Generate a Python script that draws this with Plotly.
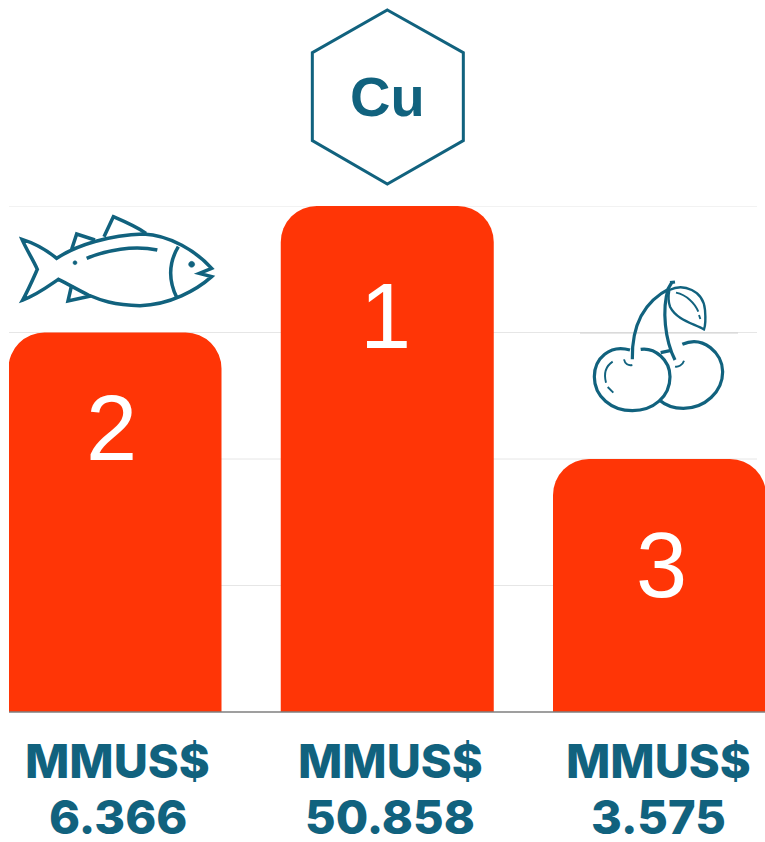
import re
import plotly.graph_objects as go

ranks = ["2", "1", "3"]
heights = [3, 4, 2]
positions = [0, 1, 2]
amount_labels = ["6.366", "50.858", "3.575"]
unit_label = "MMUS$"
y_ticks = [0, 1, 2, 3, 4]

W, H = 765, 842
TEAL = "#11627e"
RED = "#ff3506"
PLOT_L, PLOT_R, PLOT_T, PLOT_B = 9, 765, 206, 712
GRID_END = 757
CAT0, CAT_STEP = 115, 272.25


def px_x(v):
    return (v - CAT0) / CAT_STEP


def tr(path, ox, oy, s=3.0):
    """Map icon path written in zoom-crop coordinates to page pixels."""
    def rep(m):
        return f"{ox + float(m.group(1)) / s:.2f},{oy + float(m.group(2)) / s:.2f}"
    return re.sub(r"(-?[\d.]+),(-?[\d.]+)", rep, path)


def circ(cx, cy, r):
    k = 0.5523 * r
    return (f"M{cx-r},{cy} C{cx-r},{cy-k} {cx-k},{cy-r} {cx},{cy-r} "
            f"C{cx+k},{cy-r} {cx+r},{cy-k} {cx+r},{cy} "
            f"C{cx+r},{cy+k} {cx+k},{cy+r} {cx},{cy+r} "
            f"C{cx-k},{cy+r} {cx-r},{cy+k} {cx-r},{cy} Z")


fish_lines = [
    "M170,205 C230,165 330,135 430,132 C510,135 590,185 635,235 L598,250 L635,260 "
    "C590,300 510,345 420,347 C340,345 300,330 265,315 C235,300 200,280 175,268 "
    "C150,285 110,315 68,330 C85,300 100,265 112,238 C100,210 80,180 66,148 C105,160 140,180 170,205 Z",
    "M312,140 L340,80 C375,95 410,110 438,130",
    "M215,178 L230,132 L285,150",
    "M215,285 L204,333 L272,318",
    "M535,170 C505,220 505,270 530,322",
    "M260,205 C320,180 400,165 472,180",
]
fish_dots = [circ(575, 223, 9), circ(225, 218, 6)]

cherry_lines = [
    "M270,270 C210,252 163,295 163,350 C163,410 215,452 277,452 C340,452 390,410 390,350 C390,300 345,262 302,268",
    "M427,253 C490,225 548,280 548,335 C548,395 495,445 430,445 C400,445 375,435 358,420",
    "M362,278 L390,272",
    "M277,298 C275,200 310,125 390,85",
    "M405,300 C375,240 365,150 385,85 L395,68",
    "M390,68 L405,66",
]
cherry_leaf = [
    "M388,90 C430,70 490,90 495,150 C497,175 497,195 492,208 C460,190 410,180 390,140 C385,125 385,105 388,90",
]
cherry_thin = [
    "M408,98 C440,105 465,130 475,155",
    "M477,165 L481,177",
    "M218,305 C195,320 192,345 198,368",
    "M203,381 L220,398",
    "M252,298 C255,312 265,318 277,315",
    "M405,320 C415,322 428,315 432,302",
]
hexagon = "M292,30 L520,158 L520,422 L292,552 L67,422 L67,158 Z"

fig = go.Figure()
fig.add_trace(go.Bar(
    x=positions, y=heights, width=213 / CAT_STEP, marker=dict(color=RED, line_width=0),
    showlegend=False, hoverinfo="skip",
))
# invisible pixel-space axes carrying the decoration
fig.add_trace(go.Scatter(x=[0], y=[0], xaxis="x2", yaxis="y2", mode="markers",
                         marker_opacity=0, showlegend=False, hoverinfo="skip"))

shapes = []

for t in y_ticks[1:]:
    shapes.append(dict(type="line", xref="x", yref="y", layer="below",
                       x0=px_x(PLOT_L), x1=px_x(GRID_END), y0=t, y1=t,
                       line=dict(color="#e6e6e6", width=1)))


def add(path, ox, oy, width, fill=None, layer="above"):
    shapes.append(dict(type="path", path=tr(path, ox, oy), xref="x2", yref="y2", layer=layer,
                       line=dict(color=TEAL, width=width),
                       fillcolor=fill or "rgba(0,0,0,0)"))


for p in fish_lines:
    add(p, 0, 190, 3.5)
for p in fish_dots:
    add(p, 0, 190, 0.5, fill=TEAL)
for p in cherry_lines:
    add(p, 540, 260, 3.2)
for p in cherry_leaf:
    add(p, 540, 260, 2.4)
for p in cherry_thin:
    add(p, 540, 260, 1.9)
add(hexagon, 290, 0, 3)

shapes.append(dict(type="line", x0=580, x1=738, y0=333, y1=333, xref="x2", yref="y2",
                   layer="below", line=dict(color="#cfcfcf", width=1)))
shapes.append(dict(type="line", x0=PLOT_L, x1=W, y0=712, y1=712, xref="x2", yref="y2",
                   layer="above", line=dict(color="#7f7f7f", width=1.5)))

ann = []
rank_pos = [(111, 428), (385, 316), (661, 565)]
for r, (ax, ay) in zip(ranks, rank_pos):
    ann.append(dict(text=r, x=ax, y=ay, xref="x2", yref="y2", showarrow=False,
                    xanchor="center", yanchor="middle",
                    font=dict(family="Liberation Sans", size=92, color="white")))
label_x = [117.5, 390, 658]
for a, lx in zip(amount_labels, label_x):
    ann.append(dict(text=unit_label, x=lx, y=760, xref="x2", yref="y2", showarrow=False,
                    xanchor="center", yanchor="middle",
                    font=dict(family="Inter", size=47, color=TEAL, weight=800)))
    ann.append(dict(text=a, x=lx, y=816, xref="x2", yref="y2", showarrow=False,
                    xanchor="center", yanchor="middle",
                    font=dict(family="Inter", size=47, color=TEAL, weight=800)))
ann.append(dict(text="Cu", x=387, y=96, xref="x2", yref="y2", showarrow=False,
                xanchor="center", yanchor="middle",
                font=dict(family="Liberation Sans", size=56, color=TEAL, weight=700)))

fig.update_layout(
    width=W, height=H, margin=dict(l=0, r=0, t=0, b=0, pad=0),
    paper_bgcolor="white", plot_bgcolor="rgba(0,0,0,0)",
    barcornerradius=36, showlegend=False,
    xaxis=dict(domain=[PLOT_L / W, PLOT_R / W], range=[px_x(PLOT_L), px_x(PLOT_R)],
               showgrid=False, zeroline=False, showticklabels=False, ticks=""),
    yaxis=dict(domain=[(H - PLOT_B) / H, (H - PLOT_T) / H], range=[0, 4],
               showgrid=False, zeroline=False, showticklabels=False, ticks=""),
    xaxis2=dict(domain=[0, 1], range=[0, W], visible=False, anchor="y2"),
    yaxis2=dict(domain=[0, 1], range=[H, 0], visible=False, anchor="x2"),
    shapes=shapes, annotations=ann,
)
fig.write_html("out.html", config=dict(displayModeBar=False),
               post_script="document.body.style.margin='0';document.documentElement.style.overflow='hidden';")
